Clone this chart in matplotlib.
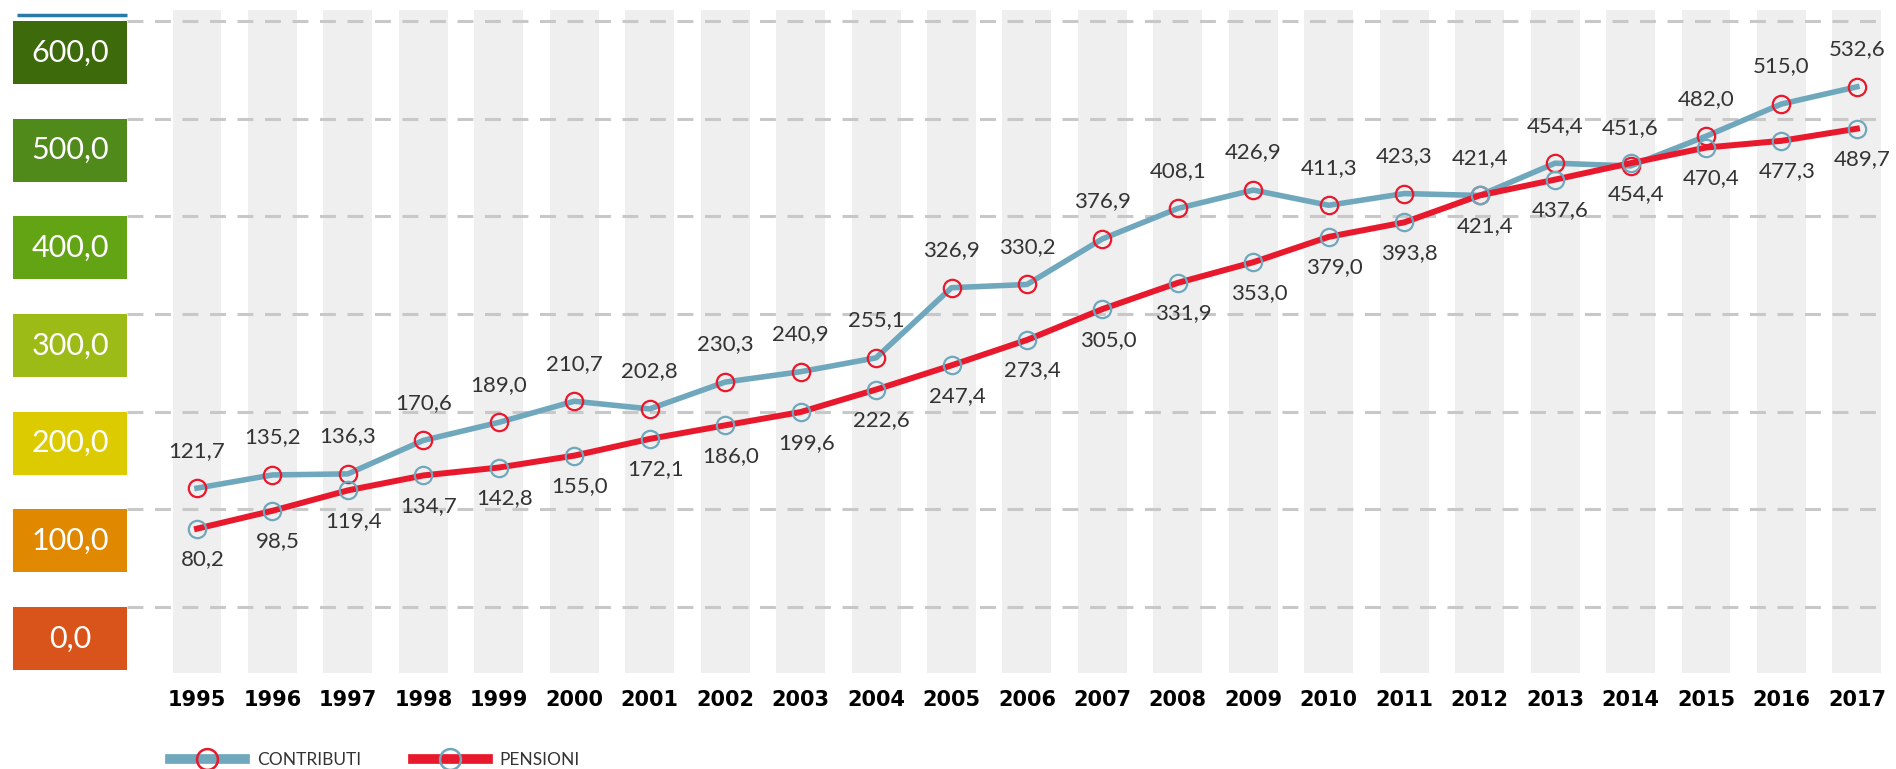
import matplotlib.pyplot as plt
from matplotlib.patches import Rectangle
from matplotlib.lines import Line2D

# data
years = list(range(1995, 2018))
contributi = [121.7, 135.2, 136.3, 170.6, 189.0, 210.7, 202.8, 230.3, 240.9, 255.1,
              326.9, 330.2, 376.9, 408.1, 426.9, 411.3, 423.3, 421.4, 454.4, 451.6,
              482.0, 515.0, 532.6]
pensioni = [80.2, 98.5, 119.4, 134.7, 142.8, 155.0, 172.1, 186.0, 199.6, 222.6,
            247.4, 273.4, 305.0, 331.9, 353.0, 379.0, 393.8, 421.4, 437.6, 454.4,
            470.4, 477.3, 489.7]
y_ticks = [0, 100, 200, 300, 400, 500, 600]
box_colors = ['#d9541a', '#e08900', '#dccb00', '#9dbb17', '#63a414', '#4f8a1a', '#3d6a0a']

TEAL = '#6fa8bc'
RED = '#e8192c'

W, H = 1896, 769
# pixel layout of the reference
X0, DX = 197, 75.45      # x pixel of 1995, pixels per year
Y0, DY = 607, 0.9767     # y pixel of value 0, pixels per unit


def xd(px):
    return years[0] + (px - X0) / DX


def yd(py):
    return (Y0 - py) / DY


def fmt(v):
    return f"{v:.1f}".replace('.', ',')


fig = plt.figure(figsize=(W / 100, H / 100), dpi=100)
ax = fig.add_axes([0, 0, 1, 1])
ax.set_xlim(xd(0), xd(W))
ax.set_ylim(yd(H), yd(0))
ax.axis('off')

# grey vertical bands
band_w = 49 / DX
for yr in years:
    ax.add_patch(Rectangle((yr - band_w / 2, yd(673)), band_w, yd(10) - yd(673),
                           facecolor='#efefef', edgecolor='none', zorder=0))

# dashed grid lines
ax.hlines(y_ticks, xd(127), xd(1886), colors='#c8c8c8', linewidth=2.2,
          linestyles=(0, (5.2, 3.8)), zorder=1)

# coloured value boxes
box_h = 63 / DY
for v, c in zip(y_ticks, box_colors):
    ax.add_patch(Rectangle((xd(13), v - box_h), xd(127) - xd(13), box_h,
                           facecolor=c, edgecolor='none', zorder=2))
    ax.text((xd(13) + xd(127)) / 2, v - box_h / 2, fmt(v),
            color='white', fontsize=22, family='Lato', ha='center', va='center', zorder=3)
ax.hlines(yd(15), xd(17), xd(127), colors='#2a7aa8', linewidth=2.5, zorder=3)

# lines
ax.plot(years, contributi, color=TEAL, linewidth=4, zorder=4)
ax.plot(years, pensioni, color=RED, linewidth=4.3, zorder=5)
ax.plot(years, contributi, linestyle='none', marker='o', markersize=12.5,
        markerfacecolor='none', markeredgecolor=RED, markeredgewidth=1.6, zorder=6)
ax.plot(years, pensioni, linestyle='none', marker='o', markersize=12.5,
        markerfacecolor='none', markeredgecolor=TEAL, markeredgewidth=1.6, zorder=6)

for yr, v in zip(years, contributi):
    ax.annotate(fmt(v), (yr, v), xytext=(0, 27),
                textcoords='offset points', ha='center', va='center',
                fontsize=16, family='Lato', color='#333333', zorder=7)
for yr, v in zip(years, pensioni):
    ax.annotate(fmt(v), (yr, v), xytext=(4, -22),
                textcoords='offset points', ha='center', va='center',
                fontsize=16, family='Lato', color='#333333', zorder=7)

# year labels
for yr in years:
    ax.text(yr, yd(700), str(yr), ha='center', va='center', fontsize=15,
            fontweight='bold', family='DejaVu Sans', color='black')

# legend
handles = [
    Line2D([], [], color=TEAL, linewidth=7, marker='o', markersize=15,
           markerfacecolor='none', markeredgecolor=RED, markeredgewidth=1.8),
    Line2D([], [], color=RED, linewidth=7, marker='o', markersize=15,
           markerfacecolor='none', markeredgecolor=TEAL, markeredgewidth=1.8),
]
ax.legend(handles, ['CONTRIBUTI', 'PENSIONI'], loc='center left',
          bbox_to_anchor=(170 / W, 1 - 760 / H), ncol=2, frameon=False,
          prop={'family': 'Lato', 'size': 12.5}, handlelength=4.3,
          handletextpad=0.7, columnspacing=3.0, borderpad=0, borderaxespad=0,
          labelcolor='#333333')

fig.savefig('out.png', dpi=100)
